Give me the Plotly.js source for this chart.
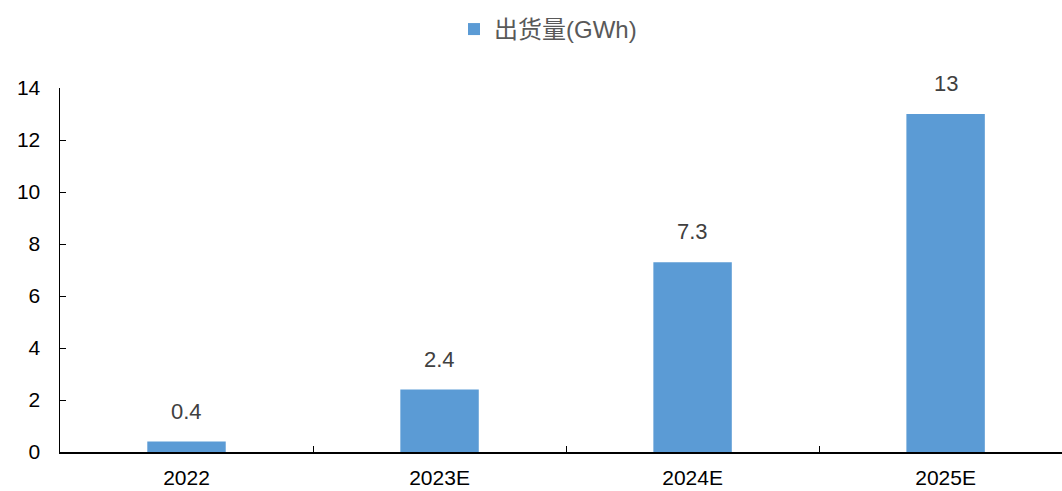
<!DOCTYPE html>
<html>
<head>
<meta charset="utf-8">
<script src="https://cdn.plot.ly/plotly-3.0.1.min.js"></script>
<style>
  html, body { margin: 0; padding: 0; background: #fff; }
  #chart { width: 1062px; height: 491px; }
</style>
</head>
<body>
<div id="chart"></div>
<script>
// Annual shipment volume, GWh
const years = ['2022', '2023E', '2024E', '2025E'];
const shipments = [0.4, 2.4, 7.3, 13];
const shipmentLabels = ['0.4', '2.4', '7.3', '13'];
const seriesName = '出货量(GWh)';

const barColor = '#5B9BD5';
const baseFont = 'Arial, "Liberation Sans", "Noto Sans CJK SC", sans-serif';

const trace = {
  type: 'bar',
  x: years,
  y: shipments,
  name: seriesName,
  marker: { color: barColor },
  width: 0.31,
  hoverinfo: 'x+y'
};

// value labels floating above each bar (x given as category index)
const annotations = years.map((yr, i) => ({
  x: i,
  y: shipments[i],
  xref: 'x',
  yref: 'y',
  text: shipmentLabels[i],
  showarrow: false,
  yanchor: 'bottom',
  yshift: 16,
  font: { family: baseFont, size: 22, color: '#404040' }
}));

const layout = {
  width: 1062,
  height: 491,
  margin: { l: 60, r: 0, t: 88, b: 39 },
  paper_bgcolor: '#ffffff',
  plot_bgcolor: '#ffffff',
  font: { family: baseFont, size: 21, color: '#000000' },
  showlegend: true,
  legend: {
    orientation: 'h',
    xref: 'container',
    yref: 'container',
    x: 0.516,
    xanchor: 'center',
    y: 0.94,
    yanchor: 'middle',
    font: { family: baseFont, size: 24, color: '#595959' },
    itemwidth: 30
  },
  xaxis: {
    type: 'category',
    range: [-0.5, 3.46],
    showline: true,
    linecolor: '#000000',
    linewidth: 1.5,
    ticks: 'inside',
    tickson: 'boundaries',
    ticklen: 6,
    tickcolor: '#000000',
    showgrid: false,
    zeroline: false,
    ticklabelstandoff: 6,
    tickfont: { family: baseFont, size: 21, color: '#000000' },
    fixedrange: true
  },
  yaxis: {
    range: [0, 14],
    dtick: 2,
    showline: true,
    linecolor: '#000000',
    linewidth: 1.5,
    ticks: 'inside',
    ticklen: 6,
    tickcolor: '#000000',
    showgrid: false,
    zeroline: false,
    ticklabelstandoff: 14,
    tickfont: { family: baseFont, size: 21, color: '#000000' },
    fixedrange: true
  },
  annotations: annotations,
  bargap: 0.69
};

Plotly.newPlot('chart', [trace], layout, { displayModeBar: false, staticPlot: true });
</script>
</body>
</html>
